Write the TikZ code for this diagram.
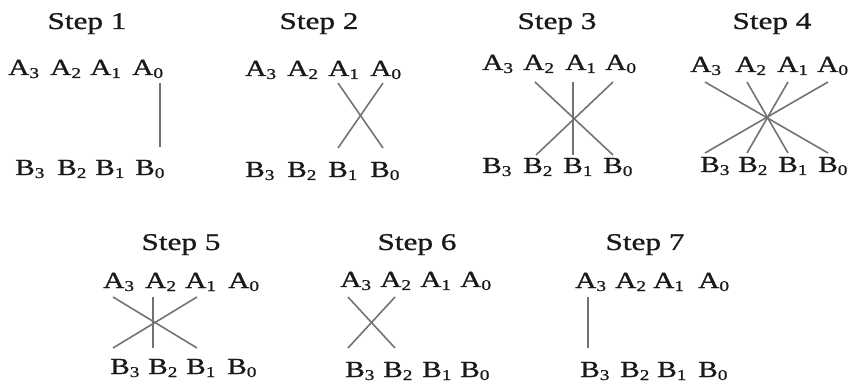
\documentclass[tikz,border=0pt]{standalone}
\usepackage{fontspec}
\setmainfont{Liberation Serif}
\newfontfamily\lfont[FakeBold=0.8]{Liberation Serif}
\usepackage{graphicx}
\newcommand\ltr[2]{\scalebox{1.28}[1]{#1\raisebox{-3pt}{\fontsize{15}{15}\selectfont #2}}}
\newcommand\putrow[7]{%
  \node[lt] (#13) at (#3,#7) {\ltr{#2}{3}};
  \node[lt] (#12) at (#4,#7) {\ltr{#2}{2}};
  \node[lt] (#11) at (#5,#7) {\ltr{#2}{1}};
  \node[lt] (#10) at (#6,#7) {\ltr{#2}{0}};
}
\tikzset{
  lt/.style={anchor=base west, inner sep=0pt, font=\lfont\fontsize{23}{23}\selectfont, text=black!90},
  ttl/.style={anchor=base, inner sep=0pt, font=\lfont\fontsize{24}{24}\selectfont, text=black!90},
  wire/.style={draw=black!55, line width=1.6pt},
}
\begin{document}
\begin{tikzpicture}[x=1pt,y=-1pt]
\useasboundingbox[fill=white] (0,0) rectangle (849,382);
% titles
\node[ttl] (t1) at (87,29) {\scalebox{1.3}[1]{Step 1}};
\node[ttl] (t2) at (319,29) {\scalebox{1.3}[1]{Step 2}};
\node[ttl] (t3) at (557,29) {\scalebox{1.3}[1]{Step 3}};
\node[ttl] (t4) at (772,29) {\scalebox{1.3}[1]{Step 4}};
\node[ttl] (t5) at (181,250) {\scalebox{1.3}[1]{Step 5}};
\node[ttl] (t6) at (417,250) {\scalebox{1.3}[1]{Step 6}};
\node[ttl] (t7) at (645,250) {\scalebox{1.3}[1]{Step 7}};
% rows
\putrow{sIa}{A}{8}{50}{90}{132}{75}
\putrow{sIb}{B}{15}{57}{95}{135}{175}
\putrow{sIIa}{A}{245}{287}{328}{370}{76}
\putrow{sIIb}{B}{245}{287}{328}{370}{177}
\putrow{sIIIa}{A}{482}{523}{565}{605}{70}
\putrow{sIIIb}{B}{482}{523}{563}{603}{173}
\putrow{sIVa}{A}{690}{735}{777}{817}{72}
\putrow{sIVb}{B}{700}{738}{778}{818}{172}
\putrow{sVa}{A}{103}{145}{185}{228}{288}
\putrow{sVb}{B}{110}{148}{186}{227}{374}
\putrow{sVIa}{A}{340}{380}{420}{460}{287}
\putrow{sVIb}{B}{345}{383}{422}{460}{377}
\putrow{sVIIa}{A}{575}{615}{653}{698}{288}
\putrow{sVIIb}{B}{580}{620}{657}{698}{377}
% step 1
\draw[wire] ([shift={(28,8)}]sIa0.base west) -- ([shift={(25,-28)}]sIb0.base west);
% step 2
\draw[wire] ([shift={(10,7)}]sIIa1.base west) -- ([shift={(13,-29)}]sIIb0.base west);
\draw[wire] ([shift={(13,7)}]sIIa0.base west) -- ([shift={(10,-29)}]sIIb1.base west);
% step 3
\draw[wire] ([shift={(12,12)}]sIIIa2.base west) -- ([shift={(10,-18)}]sIIIb0.base west);
\draw[wire] ([shift={(8,12)}]sIIIa1.base west) -- ([shift={(10,-18)}]sIIIb1.base west);
\draw[wire] ([shift={(8,12)}]sIIIa0.base west) -- ([shift={(13,-18)}]sIIIb2.base west);
% step 4
\draw[wire] ([shift={(15,10)}]sIVa3.base west) -- ([shift={(10,-19)}]sIVb0.base west);
\draw[wire] ([shift={(12,10)}]sIVa2.base west) -- ([shift={(10,-19)}]sIVb1.base west);
\draw[wire] ([shift={(11,10)}]sIVa1.base west) -- ([shift={(9,-19)}]sIVb2.base west);
\draw[wire] ([shift={(11,10)}]sIVa0.base west) -- ([shift={(5,-19)}]sIVb3.base west);
% step 5
\draw[wire] ([shift={(10,9)}]sVa3.base west) -- ([shift={(11,-26)}]sVb1.base west);
\draw[wire] ([shift={(8,9)}]sVa2.base west) -- ([shift={(5,-26)}]sVb2.base west);
\draw[wire] ([shift={(12,9)}]sVa1.base west) -- ([shift={(3,-26)}]sVb3.base west);
% step 6
\draw[wire] ([shift={(8,10)}]sVIa3.base west) -- ([shift={(12,-29)}]sVIb2.base west);
\draw[wire] ([shift={(15,10)}]sVIa2.base west) -- ([shift={(3,-29)}]sVIb3.base west);
% step 7
\draw[wire] ([shift={(13,9)}]sVIIa3.base west) -- ([shift={(8,-29)}]sVIIb3.base west);
\end{tikzpicture}
\end{document}
